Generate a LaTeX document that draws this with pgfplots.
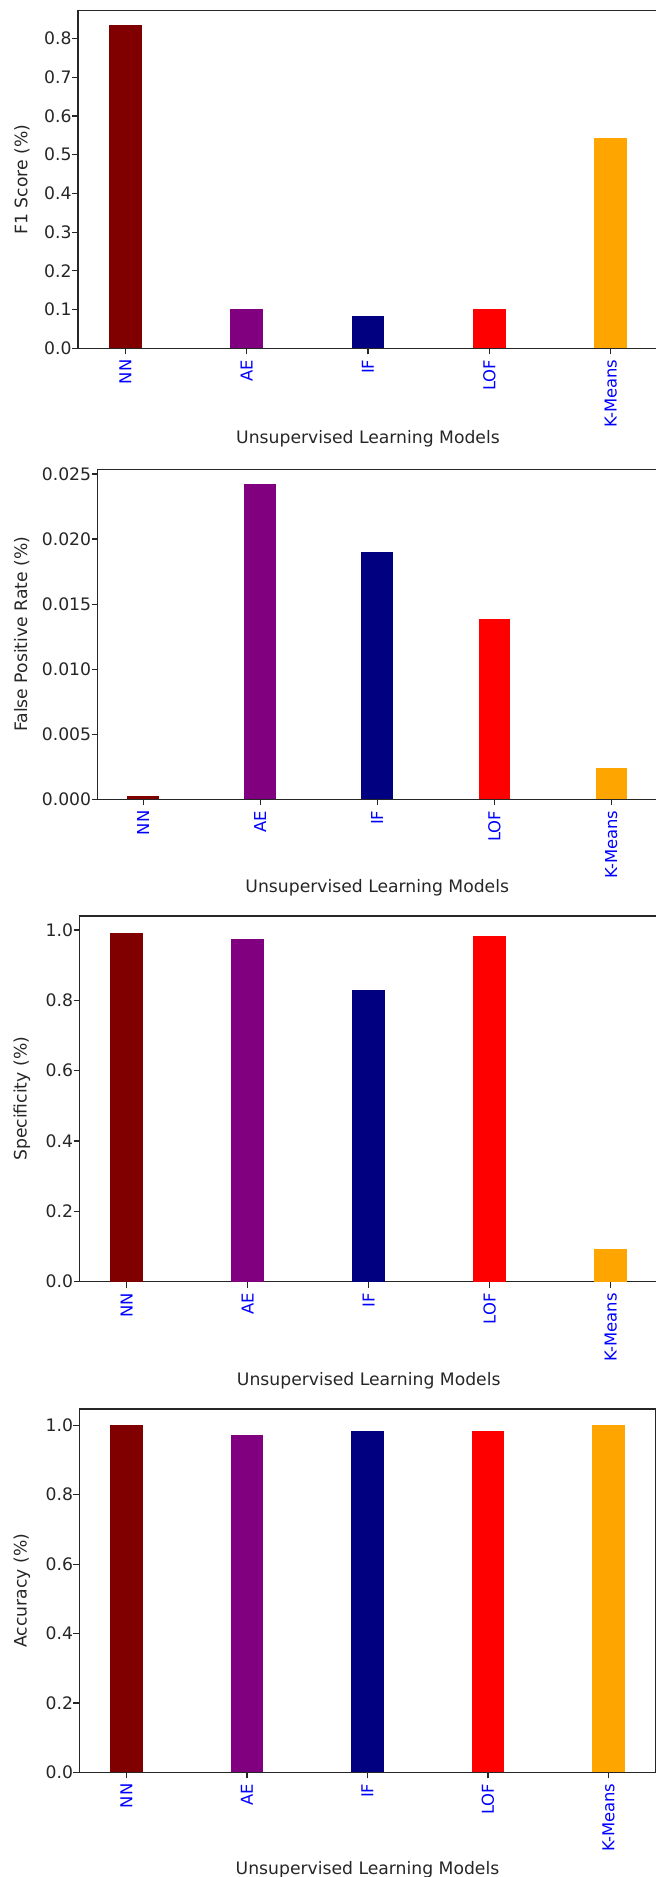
\documentclass[border=0pt]{standalone}
\usepackage{pgfplots}
\pgfplotsset{compat=1.18}
\usepackage{fontspec}
\setmainfont{DejaVu Sans}
\definecolor{cNN}{RGB}{128,0,0}
\definecolor{cAE}{RGB}{128,0,128}
\definecolor{cIF}{RGB}{0,0,128}
\definecolor{cLOF}{RGB}{255,0,0}
\definecolor{cKM}{RGB}{255,165,0}
\newcommand{\fs}{\fontsize{8.6}{10}\selectfont}
\newcommand{\fx}{\fontsize{8.2}{10}\selectfont}
\pgfplotsset{
  mybar/.style={
    scale only axis, anchor=north west,
    xmin=-0.39, xmax=4.39, ymin=0,
    xtick={0,1,2,3,4}, xticklabels={NN,AE,IF,LOF,K-Means},
    tick pos=left, tick align=outside,
    major tick length=3pt,
    tick style={black!85, line width=0.6pt},
    axis line style={black!85, line width=0.65pt},
    xticklabel style={rotate=90, anchor=east, text=blue, inner sep=0pt, font=\fx},
    xticklabel shift=2.5pt,
    yticklabel style={inner sep=0pt, font=\fs, text=black!85},
    /pgf/number format/assume math mode=true,
    scaled y ticks=false,
    label style={font=\fs, text=black!85},
    xlabel={Unsupervised Learning Models},
  },
  mb/.style={ybar, bar width=0.27, bar shift=0, draw=none, fill=#1},
}
\begin{document}
\begin{tikzpicture}
% Panel 1: F1 score
\begin{axis}[mybar, at={(39pt,-5.35pt)}, width=290pt, height=168.8pt,
  ymax=0.872, ytick={0,0.1,0.2,0.3,0.4,0.5,0.6,0.7,0.8},
  yticklabel style={/pgf/number format/.cd, fixed, fixed zerofill, precision=1},
  ylabel={F1 Score (\%)},
  ylabel style={at={(axis description cs:-0.0966,0.5)}, anchor=center},
  xlabel style={at={(axis description cs:0.5,0)}, anchor=center, yshift=-45pt}]
\addplot[mb=cNN] coordinates {(0,0.835)};
\addplot[mb=cAE] coordinates {(1,0.102)};
\addplot[mb=cIF] coordinates {(2,0.083)};
\addplot[mb=cLOF] coordinates {(3,0.102)};
\addplot[mb=cKM] coordinates {(4,0.544)};
\end{axis}
% Panel 2: FPR
\begin{axis}[mybar, at={(48.75pt,-234.65pt)}, width=279.75pt, height=165pt,
  ymax=0.02536, ytick={0,0.005,0.01,0.015,0.02,0.025},
  yticklabel style={/pgf/number format/.cd, fixed, fixed zerofill, precision=3},
  ylabel={False Positive Rate (\%)},
  ylabel style={at={(axis description cs:-0.1353,0.5)}, anchor=center},
  xlabel style={at={(axis description cs:0.5,0)}, anchor=center, yshift=-44.2pt}]
\addplot[mb=cNN] coordinates {(0,0.00028)};
\addplot[mb=cAE] coordinates {(1,0.02426)};
\addplot[mb=cIF] coordinates {(2,0.01898)};
\addplot[mb=cLOF] coordinates {(3,0.01383)};
\addplot[mb=cKM] coordinates {(4,0.00238)};
\end{axis}
% Panel 3: Specificity
\begin{axis}[mybar, at={(39.75pt,-458pt)}, width=289.25pt, height=182.85pt,
  ymax=1.04, ytick={0,0.2,0.4,0.6,0.8,1.0},
  yticklabel style={/pgf/number format/.cd, fixed, fixed zerofill, precision=1},
  ylabel={Specificity (\%)},
  ylabel style={at={(axis description cs:-0.0997,0.5)}, anchor=center},
  xlabel style={at={(axis description cs:0.5,0)}, anchor=center, yshift=-49.5pt}]
\addplot[mb=cNN] coordinates {(0,0.992)};
\addplot[mb=cAE] coordinates {(1,0.9735)};
\addplot[mb=cIF] coordinates {(2,0.829)};
\addplot[mb=cLOF] coordinates {(3,0.983)};
\addplot[mb=cKM] coordinates {(4,0.092)};
\end{axis}
% Panel 4: Accuracy
\begin{axis}[mybar, at={(39.75pt,-704.5pt)}, width=288pt, height=181.65pt,
  ymax=1.047, ytick={0,0.2,0.4,0.6,0.8,1.0},
  yticklabel style={/pgf/number format/.cd, fixed, fixed zerofill, precision=1},
  ylabel={Accuracy (\%)},
  ylabel style={at={(axis description cs:-0.1002,0.5)}, anchor=center},
  xlabel style={at={(axis description cs:0.5,0)}, anchor=center, yshift=-48.8pt}]
\addplot[mb=cNN] coordinates {(0,1.0)};
\addplot[mb=cAE] coordinates {(1,0.973)};
\addplot[mb=cIF] coordinates {(2,0.983)};
\addplot[mb=cLOF] coordinates {(3,0.983)};
\addplot[mb=cKM] coordinates {(4,1.0)};
\end{axis}
\pgfresetboundingbox
\path[use as bounding box] (0,0) rectangle (328pt,-938.5pt);
\end{tikzpicture}
\end{document}
